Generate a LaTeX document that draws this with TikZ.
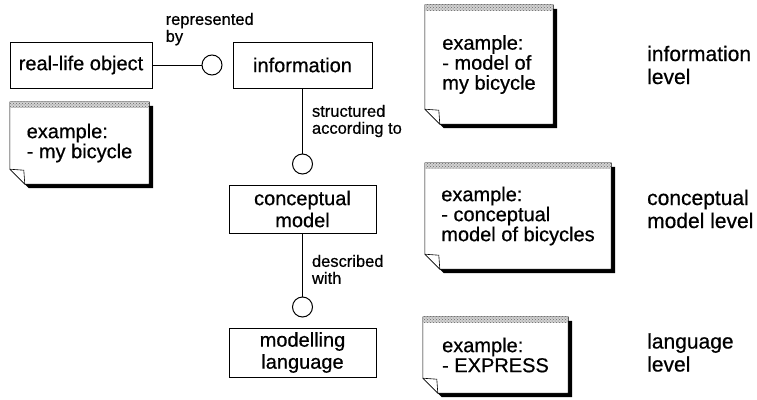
\documentclass[tikz,border=0pt]{standalone}
\usepackage{fontspec}
\setmainfont{Liberation Sans}[FakeBold=0.6]
\usetikzlibrary{positioning,patterns,backgrounds}

\tikzset{
  box/.style={draw, line width=1pt, minimum height=46pt, inner sep=2pt, align=center, font=\fontsize{20}{22}\selectfont},
  socket/.style={draw, line width=1pt, circle, minimum size=20pt, inner sep=0pt},
  conn/.style={line width=1pt},
  lbl/.style={align=left, inner sep=0pt, font=\fontsize{16.5}{17}\selectfont},
  note/.style={align=left, inner sep=0pt, font=\fontsize{20}{20}\selectfont},
  level/.style={anchor=west, align=left, inner sep=0pt, font=\fontsize{21}{23}\selectfont},
}

\begin{document}
\begin{tikzpicture}[x=1pt, y=1pt, node distance=144pt, on grid]
  \useasboundingbox (0,0) rectangle (757,-399);

  % main column
  \node[box, minimum width=139pt] (info) at (302.5,-65) {information};
  \node[box, minimum width=142pt] (real) [left=221.5pt of info] {real-life object};
  \node[box, minimum width=147pt, minimum height=48pt] (concept) [below=of info] {conceptual\\model};
  \node[box, minimum width=147pt, minimum height=49pt] (lang) [below=143.5pt of concept] {modelling\\language};

  \node[socket] (s1) [left=10pt of info.west] {};
  \node[socket] (s2) [above=10pt of concept.north] {};
  \node[socket] (s3) [above=10pt of lang.north] {};

  \draw[conn] (real) -- (s1);
  \draw[conn] (info) -- node[lbl, right=9pt] {structured\\according to} (s2);
  \draw[conn] (concept) -- node[lbl, right=9pt, pos=0.57] {described\\with} (s3);
  \node[lbl, anchor=south west] (repby) at ([xshift=13pt, yshift=-4pt]real.north east) {represented\\by};

  % example notes
  \node[note, minimum width=139pt, minimum height=82pt] (n1) at (79.5,-143) {example:\\- my bicycle};
  \node[note, minimum width=128pt, minimum height=119pt] (n2) at (489,-64.5) {example:\\- model of\\my bicycle};
  \node[note, minimum width=186pt, minimum height=106pt] (n3) at (518,-216) {example:\\- conceptual\\model of bicycles};
  \node[note, minimum width=145pt, minimum height=76pt] (n4) at (495.5,-355) {example:\\- EXPRESS};

  \begin{pgfonlayer}{background}
    \foreach \n in {n1,n2,n3,n4} {
      \fill ([shift={(4pt,-4pt)}]\n.north west) -- ([shift={(4pt,-4pt)}]\n.north east)
        -- ([shift={(4pt,-4pt)}]\n.south east) -- ([shift={(19pt,-4pt)}]\n.south west)
        -- ([shift={(4pt,11pt)}]\n.south west) -- cycle;
      \filldraw[fill=white, line width=0.6pt] (\n.north west) -- (\n.north east) -- (\n.south east)
        -- ([xshift=15pt]\n.south west) -- ([yshift=15pt]\n.south west) -- cycle;
      \fill[gray!35] (\n.north west) rectangle ([yshift=-6pt]\n.north east);
      \fill[pattern=crosshatch dots, pattern color=black!60] (\n.north west) rectangle ([yshift=-6pt]\n.north east);
      \draw[line width=0.6pt] ([yshift=15pt]\n.south west) -- ([shift={(14pt,14pt)}]\n.south west)
        -- ([xshift=15pt]\n.south west);
    }
  \end{pgfonlayer}

  % levels
  \coordinate (lvl) at (647,0);
  \node[level] (lvinfo) at (info -| lvl) {information\\level};
  \node[level] (lvconcept) at (concept -| lvl) {conceptual\\model level};
  \node[level] (lvlang) at (lang -| lvl) {language\\level};
\end{tikzpicture}
\end{document}
